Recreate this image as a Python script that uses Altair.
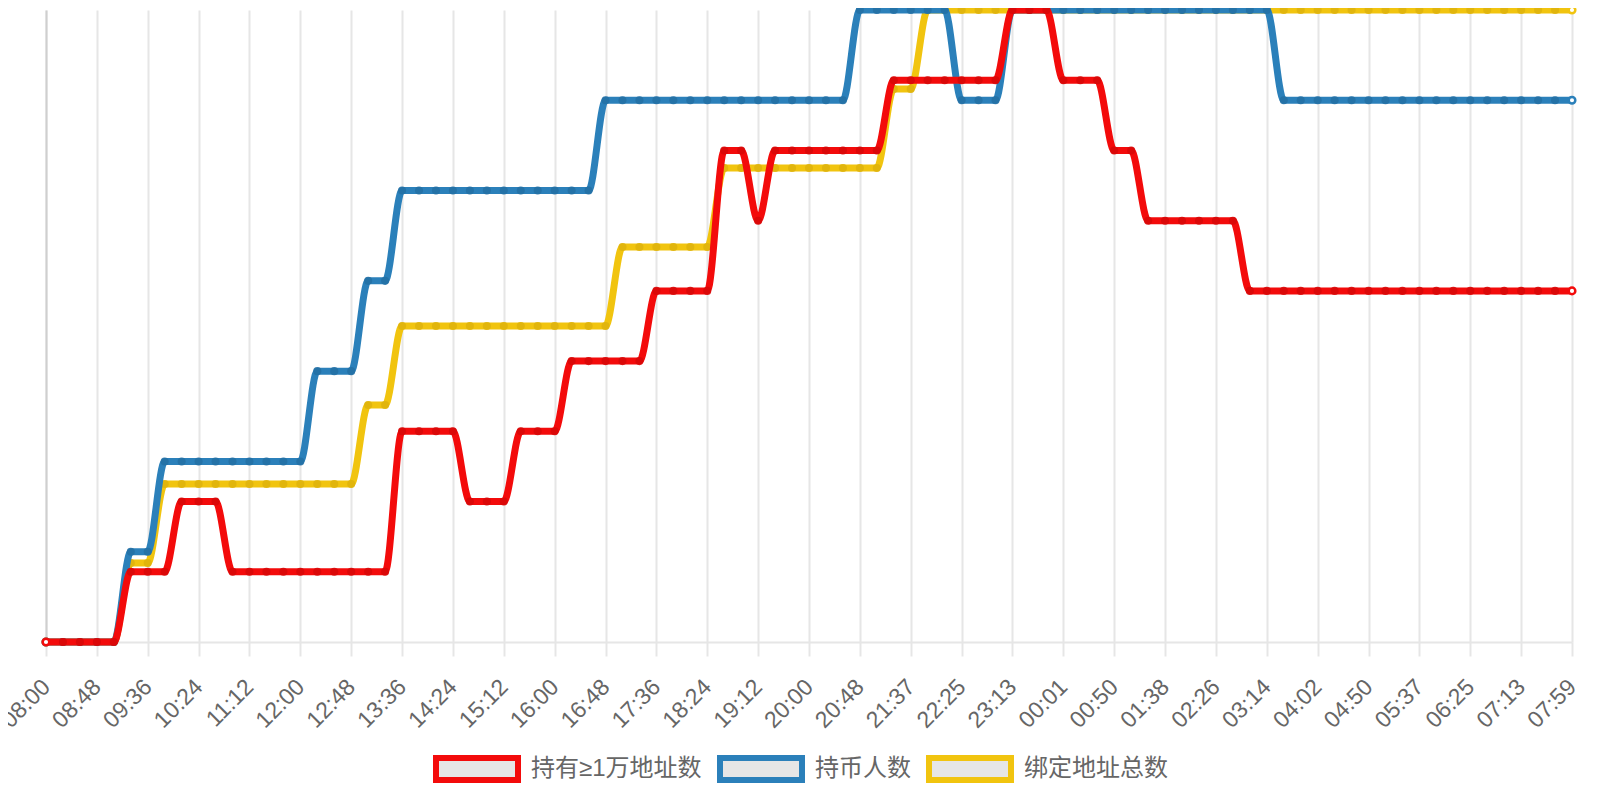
import altair as alt
import pandas as pd

# x-axis tick labels (every third sample)
labels = ["08:00", "08:48", "09:36", "10:24", "11:12", "12:00", "12:48", "13:36",
          "14:24", "15:12", "16:00", "16:48", "17:36", "18:24", "19:12", "20:00",
          "20:48", "21:37", "22:25", "23:13", "00:01", "00:50", "01:38", "02:26",
          "03:14", "04:02", "04:50", "05:37", "06:25", "07:13", "07:59"]

series_names = ["持有≥1万地址数", "持币人数", "绑定地址总数"]
line_colors = ["#f30b0b", "#2b80ba", "#f1c40f"]
dot_colors = ["#d80808", "#2470a5", "#dfb40c"]

# values (91 samples each)
red = [0, 0, 0, 0, 0, 1, 1, 1, 2, 2,
       2, 1, 1, 1, 1, 1, 1, 1, 1, 1,
       1, 3, 3, 3, 3, 2, 2, 2, 3, 3,
       3, 4, 4, 4, 4, 4, 5, 5, 5, 5,
       7, 7, 6, 7, 7, 7, 7, 7, 7, 7,
       8, 8, 8, 8, 8, 8, 8, 9, 9, 9,
       8, 8, 8, 7, 7, 6, 6, 6, 6, 6,
       6, 5, 5, 5, 5, 5, 5, 5, 5, 5,
       5, 5, 5, 5, 5, 5, 5, 5, 5, 5,
       5]
blue = [0, 0, 0, 0, 0, 1, 1, 2, 2, 2,
        2, 2, 2, 2, 2, 2, 3, 3, 3, 4,
        4, 5, 5, 5, 5, 5, 5, 5, 5, 5,
        5, 5, 5, 6, 6, 6, 6, 6, 6, 6,
        6, 6, 6, 6, 6, 6, 6, 6, 7, 7,
        7, 7, 7, 7, 6, 6, 6, 7, 7, 7,
        7, 7, 7, 7, 7, 7, 7, 7, 7, 7,
        7, 7, 7, 6, 6, 6, 6, 6, 6, 6,
        6, 6, 6, 6, 6, 6, 6, 6, 6, 6,
        6]
yellow = [0, 0, 0, 0, 0, 1, 1, 2, 2, 2,
          2, 2, 2, 2, 2, 2, 2, 2, 2, 3,
          3, 4, 4, 4, 4, 4, 4, 4, 4, 4,
          4, 4, 4, 4, 5, 5, 5, 5, 5, 5,
          6, 6, 6, 6, 6, 6, 6, 6, 6, 6,
          7, 7, 8, 8, 8, 8, 8, 8, 8, 8,
          8, 8, 8, 8, 8, 8, 8, 8, 8, 8,
          8, 8, 8, 8, 8, 8, 8, 8, 8, 8,
          8, 8, 8, 8, 8, 8, 8, 8, 8, 8,
          8]

FONT = "Liberation Sans, Noto Sans CJK SC, sans-serif"
n = len(red)
label_expr = "[" + ",".join("'%s'" % s for s in labels) + "][round(datum.value / 3)]"

x_axis = alt.Axis(
    values=list(range(0, n, 3)), labelExpr=label_expr, title=None,
    labelAngle=-45, labelAlign="right", labelBaseline="middle",
    labelFontSize=23, labelColor="#666666", labelFont=FONT, labelPadding=27,
    labelOverlap=False, labelFlush=False, labelBound=False,
    grid=True, gridColor="#e6e6e6", gridWidth=2,
    ticks=True, tickColor="#e6e6e6", tickWidth=2, tickSize=14,
    domain=True, domainColor="#e6e6e6", domainWidth=2,
)

legend = alt.Legend(
    title=None, orient="none", direction="horizontal", columns=3,
    legendX=387, legendY=715, padding=0,
    symbolType="M-1,-0.268H1V0.268H-1Z", symbolSize=6724, symbolStrokeWidth=6,
    symbolFillColor="#e6e6e6", symbolOpacity=1,
    labelFontSize=24, labelColor="#666666", labelFont=FONT, labelLimit=400,
    labelOffset=10, columnPadding=6,
)
color_scale = alt.Scale(domain=series_names, range=line_colors)


def series_layer(name, vals, dot_color, line_color, y_axis):
    df = pd.DataFrame({
        "idx": list(range(len(vals))),
        "v": vals,
        "series": name,
        "end": [i == 0 or i == len(vals) - 1 for i in range(len(vals))],
    })
    base = alt.Chart(df).encode(
        x=alt.X("idx:Q", scale=alt.Scale(domain=[0, n - 1], nice=False, zero=False), axis=x_axis),
        y=alt.Y("v:Q", scale=alt.Scale(domain=[0, max(vals)], nice=False, zero=True), axis=y_axis),
    )
    line = base.mark_line(interpolate="monotone", strokeWidth=7).encode(
        color=alt.Color("series:N", scale=color_scale, legend=legend)
    )
    dots = base.transform_filter("!datum.end").mark_circle(size=65, color=dot_color, opacity=0.9)
    ends = base.transform_filter("datum.end").mark_point(
        shape="circle", size=44, filled=True, fill="white", stroke=line_color,
        strokeWidth=2.5, opacity=1)
    return alt.layer(line, dots, ends)


y_axis_left = alt.Axis(title=None, labels=False, ticks=False, grid=False,
                       domain=True, domainColor="#cfcfcf", domainWidth=2)

layer_yellow = series_layer(series_names[2], yellow, dot_colors[2], line_colors[2], y_axis_left)
layer_blue = series_layer(series_names[1], blue, dot_colors[1], line_colors[1], None)
layer_red = series_layer(series_names[0], red, dot_colors[0], line_colors[0], None)

chart = alt.layer(layer_yellow, layer_blue, layer_red).resolve_scale(
    y="independent"
).properties(
    width=1526, height=632,
    padding={"left": 38, "top": 2, "right": 8, "bottom": 150},
    autosize=alt.AutoSizeParams(type="none"),
).configure_view(stroke=None)

chart.save("out.html", embed_options={"renderer": "svg", "actions": False})
